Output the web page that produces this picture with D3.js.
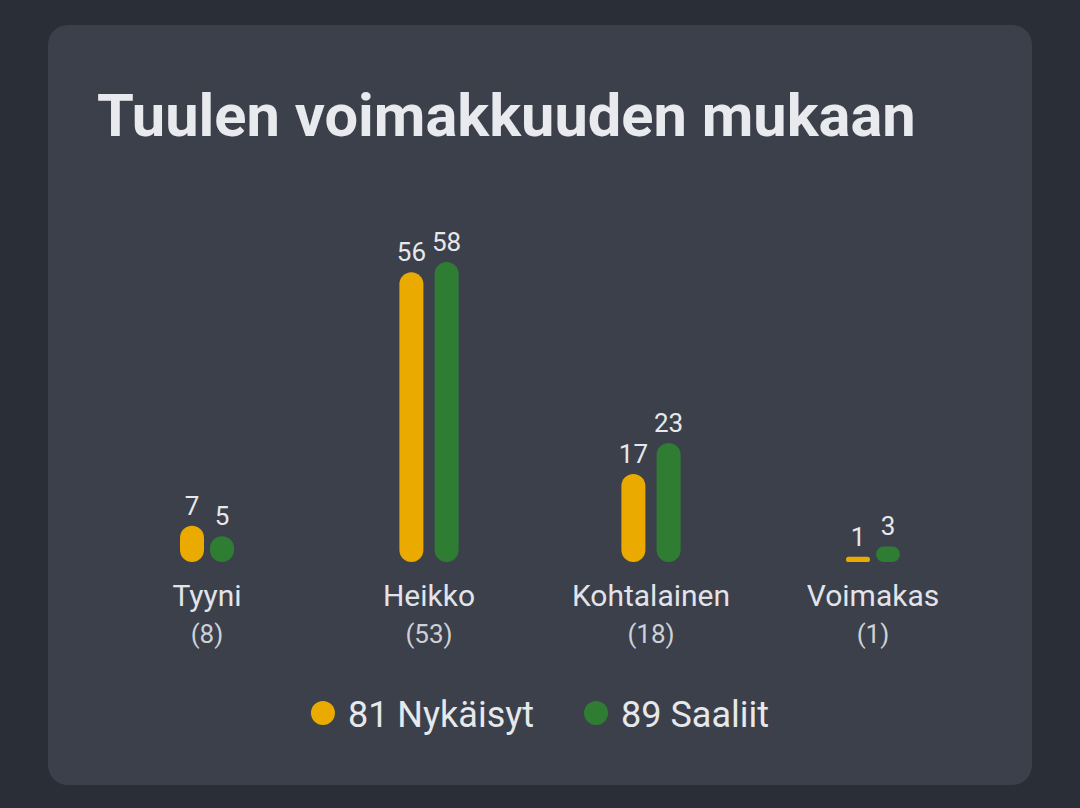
<!DOCTYPE html>
<html>
<head>
<meta charset="utf-8">
<script src="https://cdn.jsdelivr.net/npm/d3@7"></script>
<style>
  html, body { margin: 0; padding: 0; background: #2a2e37; }
  svg { display: block; font-family: Roboto, "Noto Sans", sans-serif; }
</style>
</head>
<body>
<svg id="chart" width="1080" height="808"></svg>
<script>
// data
var categories = ['Tyyni', 'Heikko', 'Kohtalainen', 'Voimakas']
var counts = [8, 53, 18, 1]
var nykaisyt = [7, 56, 17, 1]
var saaliit = [5, 58, 23, 3]
var seriesNames = ['Nykäisyt', 'Saaliit']
var seriesColors = ['#eaaa00', '#2e7d32']

var series = [nykaisyt, saaliit]

var svg = d3.select('#chart')

// card
svg.append('rect')
    .attr('x', 48).attr('y', 25)
    .attr('width', 984).attr('height', 760)
    .attr('rx', 20)
    .attr('fill', '#3b404b')

svg.append('text')
    .attr('x', 97).attr('y', 136)
    .attr('font-size', 59.6)
    .attr('font-weight', 700)
    .attr('fill', '#e8eaee')
    .text('Tuulen voimakkuuden mukaan')

var x = d3.scaleBand().domain(categories).range([96, 984]).padding(0)
var y = d3.scaleLinear().domain([0, d3.max(saaliit.concat(nykaisyt))]).range([562, 262])

var barW = 24, gap = 6

var groups = svg.append('g')
    .selectAll('g')
    .data(categories)
    .join('g')
    .attr('transform', d => `translate(${x(d) + x.bandwidth() / 2},0)`)

groups.each(function(cat, ci) {
    var g = d3.select(this)
    // value labels first, to size the columns
    var labs = g.selectAll('text.val')
        .data(series.map((s, si) => ({v: s[ci], si: si})))
        .join('text')
        .attr('class', 'val')
        .attr('font-size', 26)
        .attr('fill', '#e6e8ec')
        .attr('text-anchor', 'middle')
        .text(d => d.v)
    var widths = labs.nodes().map(n => Math.max(barW, n.getComputedTextLength()))
    var total = d3.sum(widths) + gap * (widths.length - 1)
    var pos = 0
    var centers = widths.map(w => { var c = -total / 2 + pos + w / 2; pos += w + gap; return c })

    labs.attr('x', (d, i) => centers[i])
        .attr('y', d => y(d.v) - 11)

    g.selectAll('rect.bar')
        .data(series.map((s, si) => ({v: s[ci], si: si})))
        .join('rect')
        .attr('class', 'bar')
        .attr('x', (d, i) => centers[i] - barW / 2)
        .attr('y', d => y(d.v))
        .attr('width', barW)
        .attr('height', d => y(0) - y(d.v))
        .attr('rx', d => Math.min(barW / 2, (y(0) - y(d.v)) / 2))
        .attr('fill', d => seriesColors[d.si])

    g.append('text')
        .attr('y', 606)
        .attr('text-anchor', 'middle')
        .attr('font-size', 30)
        .attr('fill', '#e2e4e9')
        .text(cat)

    g.append('text')
        .attr('y', 643)
        .attr('text-anchor', 'middle')
        .attr('font-size', 26)
        .attr('fill', '#cdd0d6')
        .text('(' + counts[ci] + ')')
})

// legend
var legend = svg.append('g')
var items = legend.selectAll('g')
    .data(seriesNames)
    .join('g')
items.append('circle')
    .attr('r', 12)
    .attr('cy', 713)
    .attr('fill', (d, i) => seriesColors[i])
items.append('text')
    .attr('x', 25)
    .attr('y', 727)
    .attr('font-size', 36)
    .attr('fill', '#e6e8ec')
    .text((d, i) => d3.sum(series[i]) + ' ' + d)

var itemW = items.nodes().map(n => 25 + d3.select(n).select('text').node().getComputedTextLength())
var legendW = d3.sum(itemW) + 50 + 12
var lx = 534 - legendW / 2 + 12
items.attr('transform', (d, i) => {
    var t = `translate(${lx},0)`
    lx += itemW[i] + 50 + 12
    return t
})
</script>
</body>
</html>
